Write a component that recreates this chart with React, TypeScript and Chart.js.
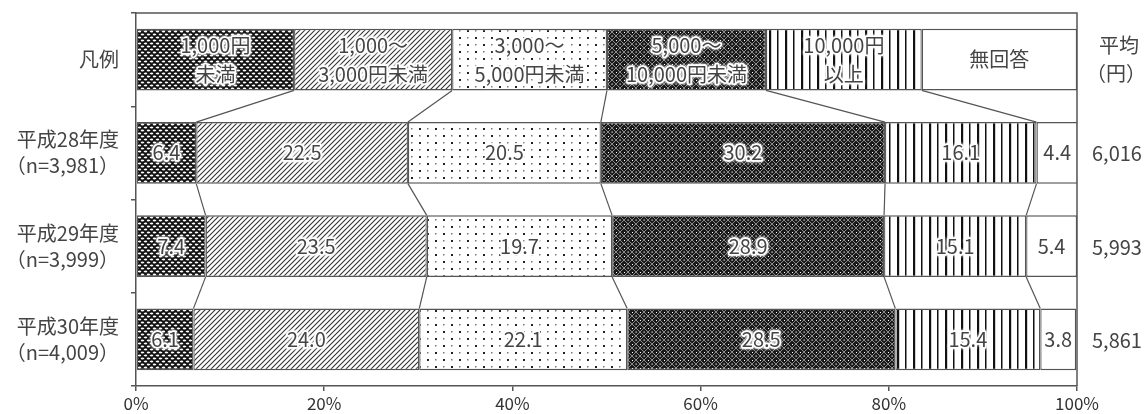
import React, { useEffect, useRef } from "react";
import { Chart, registerables } from "chart.js";

Chart.register(...registerables);

const categories = [
  ["凡例"],
  ["平成28年度", "（n=3,981）"],
  ["平成29年度", "（n=3,999）"],
  ["平成30年度", "（n=4,009）"],
];
const seriesNames = ["1,000円未満", "1,000～3,000円未満", "3,000～5,000円未満", "5,000～10,000円未満", "10,000円以上", "無回答"];
const legendLabels = [
  ["1,000円", "未満"],
  ["1,000～", "3,000円未満"],
  ["3,000～", "5,000円未満"],
  ["5,000～", "10,000円未満"],
  ["10,000円", "以上"],
  ["無回答"],
];
const legendWidths = [16.8, 16.8, 16.45, 16.9, 16.55, 16.5];
const v28 = [6.4, 22.5, 20.5, 30.2, 16.1, 4.4];
const v29 = [7.4, 23.5, 19.7, 28.9, 15.1, 5.4];
const v30 = [6.1, 24.0, 22.1, 28.5, 15.4, 3.8];
const averageTitle = ["平均", "（円）"];
const averages = ["6,016", "5,993", "5,861"];
const xTicks = [0, 20, 40, 60, 80, 100];

const FONT = "'Noto Sans CJK JP', 'Noto Sans', sans-serif";
const LINE = "#555";
const TEXT = "#444";

function makePattern(w: number, h: number, draw: (c: CanvasRenderingContext2D) => void): CanvasPattern | string {
  const cv = document.createElement("canvas");
  cv.width = w;
  cv.height = h;
  const c = cv.getContext("2d");
  if (!c) return "#888";
  draw(c);
  const ctx = document.createElement("canvas").getContext("2d");
  return (ctx && ctx.createPattern(cv, "repeat")) || "#888";
}

function buildPatterns() {
  const p1 = makePattern(6, 6, (c) => {
    c.fillStyle = "#111";
    c.fillRect(0, 0, 6, 6);
    c.fillStyle = "#fff";
    c.beginPath();
    c.ellipse(1.5, 1.5, 1.8, 0.9, 0, 0, Math.PI * 2);
    c.ellipse(4.5, 4.5, 1.8, 0.9, 0, 0, Math.PI * 2);
    c.fill();
    c.beginPath();
    c.ellipse(-1.5, 4.5, 1.8, 0.9, 0, 0, Math.PI * 2);
    c.ellipse(7.5, 1.5, 1.8, 0.9, 0, 0, Math.PI * 2);
    c.fill();
  });
  const p2 = makePattern(5, 5, (c) => {
    c.fillStyle = "#fff";
    c.fillRect(0, 0, 5, 5);
    c.strokeStyle = "#333";
    c.lineWidth = 1.1;
    c.beginPath();
    c.moveTo(-1, 6);
    c.lineTo(6, -1);
    c.moveTo(-1, 1);
    c.lineTo(1, -1);
    c.moveTo(4, 6);
    c.lineTo(6, 4);
    c.stroke();
  });
  const p3 = makePattern(16, 14, (c) => {
    c.fillStyle = "#fff";
    c.fillRect(0, 0, 16, 14);
    c.fillStyle = "#222";
    c.fillRect(3, 2, 2, 2);
    c.fillRect(11, 9, 2, 2);
    c.fillStyle = "#777";
    c.fillRect(11, 2, 1.5, 1.5);
    c.fillRect(3, 9, 1.5, 1.5);
  });
  const p4 = makePattern(8, 8, (c) => {
    c.fillStyle = "#1a1a1a";
    c.fillRect(0, 0, 8, 8);
    c.strokeStyle = "#8a8a8a";
    c.lineWidth = 1;
    c.beginPath();
    c.moveTo(0, 4);
    c.lineTo(4, 0);
    c.lineTo(8, 4);
    c.lineTo(4, 8);
    c.closePath();
    c.stroke();
    c.fillStyle = "#fff";
    c.fillRect(3.5, 3.5, 1.2, 1.2);
    c.fillRect(0, 0, 1, 1);
  });
  const p5 = makePattern(16, 4, (c) => {
    c.fillStyle = "#fff";
    c.fillRect(0, 0, 16, 4);
    c.fillStyle = "#111";
    c.fillRect(1, 0, 2.2, 4);
    c.fillRect(9, 0, 1.5, 4);
  });
  return [p1, p2, p3, p4, p5, "#ffffff"];
}

function haloText(ctx: CanvasRenderingContext2D, t: string, x: number, y: number, halo: boolean) {
  if (halo) {
    ctx.save();
    ctx.shadowColor = "rgba(255,255,255,1)";
    ctx.shadowBlur = 3;
    ctx.strokeStyle = "rgba(255,255,255,0.9)";
    ctx.lineWidth = 3;
    ctx.lineJoin = "round";
    ctx.strokeText(t, x, y);
    ctx.strokeText(t, x, y);
    ctx.restore();
  }
  ctx.fillStyle = TEXT;
  ctx.fillText(t, x, y);
}

export default function App() {
  const ref = useRef<HTMLCanvasElement | null>(null);

  useEffect(() => {
    if (!ref.current) return;
    const patterns = buildPatterns();
    const datasets = seriesNames.map((name, k) => ({
      label: name,
      data: [legendWidths[k], v28[k], v29[k], v30[k]],
      backgroundColor: patterns[k],
      borderColor: LINE,
      borderWidth: 1.3,
      borderSkipped: false,
      categoryPercentage: 1,
      barPercentage: 0.66,
    }));

    const overlay = {
      id: "overlay",
      afterDatasetsDraw(chart: any) {
        const ctx = chart.ctx;
        const area = chart.chartArea;
        const metas = chart.data.datasets.map((_: any, i: number) => chart.getDatasetMeta(i));
        // connectors
        ctx.save();
        ctx.strokeStyle = LINE;
        ctx.lineWidth = 1.2;
        for (let k = 0; k < metas.length - 1; k++) {
          for (let r = 0; r < categories.length - 1; r++) {
            const a = metas[k].data[r] as any;
            const b = metas[k].data[r + 1] as any;
            ctx.beginPath();
            ctx.moveTo(a.x, a.y + a.height / 2);
            ctx.lineTo(b.x, b.y - b.height / 2);
            ctx.stroke();
          }
        }
        // frame top & right
        ctx.lineWidth = 1.5;
        ctx.beginPath();
        ctx.moveTo(area.left, area.top);
        ctx.lineTo(area.right, area.top);
        ctx.lineTo(area.right, area.bottom);
        ctx.stroke();
        ctx.restore();

        // segment labels
        ctx.save();
        ctx.textAlign = "center";
        ctx.textBaseline = "middle";
        ctx.font = `20px ${FONT}`;
        const lh = 29;
        for (let k = 0; k < metas.length; k++) {
          for (let r = 0; r < categories.length; r++) {
            const el = metas[k].data[r] as any;
            const cx = (el.x + el.base) / 2;
            const lines = r === 0 ? legendLabels[k] : [chart.data.datasets[k].data[r].toFixed(1)];
            lines.forEach((t: string, i: number) => {
              const y = el.y + (i - (lines.length - 1) / 2) * lh;
              haloText(ctx, t, cx, y, k < 5);
            });
          }
        }
        // category labels (left)
        ctx.textAlign = "right";
        ctx.fillStyle = TEXT;
        categories.forEach((lines, r) => {
          const el = metas[0].data[r] as any;
          lines.forEach((t, i) => {
            ctx.fillText(t, 119, el.y + (i - (lines.length - 1) / 2) * 26);
          });
        });
        // right side averages
        const y0 = (metas[0].data[0] as any).y;
        ctx.textAlign = "center";
        ctx.fillText(averageTitle[0], 1119, y0 - 14);
        ctx.fillText(averageTitle[1], 1116, y0 + 14);
        ctx.textAlign = "left";
        averages.forEach((t, i) => {
          const el = metas[0].data[i + 1] as any;
          ctx.fillText(t, 1092, el.y + 1);
        });
        ctx.restore();
      },
    };

    const chart = new Chart(ref.current, {
      type: "bar",
      data: { labels: categories.map((c) => c.join(" ")), datasets: datasets as any },
      options: {
        indexAxis: "y",
        animation: false,
        responsive: false,
        maintainAspectRatio: false,
        layout: { padding: { left: 0, right: 71, top: 13, bottom: 0 } },
        plugins: { legend: { display: false }, tooltip: { enabled: false } },
        scales: {
          x: {
            stacked: true,
            min: 0,
            max: 100,
            afterBuildTicks: (s: any) => {
              s.ticks = xTicks.map((v) => ({ value: v }));
            },
            afterFit: (s: any) => {
              s.height = 28;
            },
            ticks: {
              callback: (v: any) => `${v}%`,
              color: "#333",
              font: { family: FONT, size: 17 },
              padding: 2,
              maxRotation: 0,
            },
            grid: { drawOnChartArea: false, drawTicks: true, tickLength: 5, color: LINE, lineWidth: 1.5 },
            border: { display: true, color: LINE, width: 1.5 },
          },
          y: {
            stacked: true,
            afterFit: (s: any) => {
              s.width = 136;
            },
            ticks: { display: false },
            grid: { drawOnChartArea: false, drawTicks: true, tickLength: 5, color: LINE, lineWidth: 1.5, offset: true },
            border: { display: true, color: LINE, width: 1.5 },
          },
        },
      },
      plugins: [overlay],
    });
    return () => chart.destroy();
  }, []);

  return (
    <div style={{ position: "fixed", left: 0, top: 0, width: 1148, height: 414, background: "#fff" }}>
      <canvas ref={ref} width={1148} height={414} style={{ width: 1148, height: 414 }} />
    </div>
  );
}
